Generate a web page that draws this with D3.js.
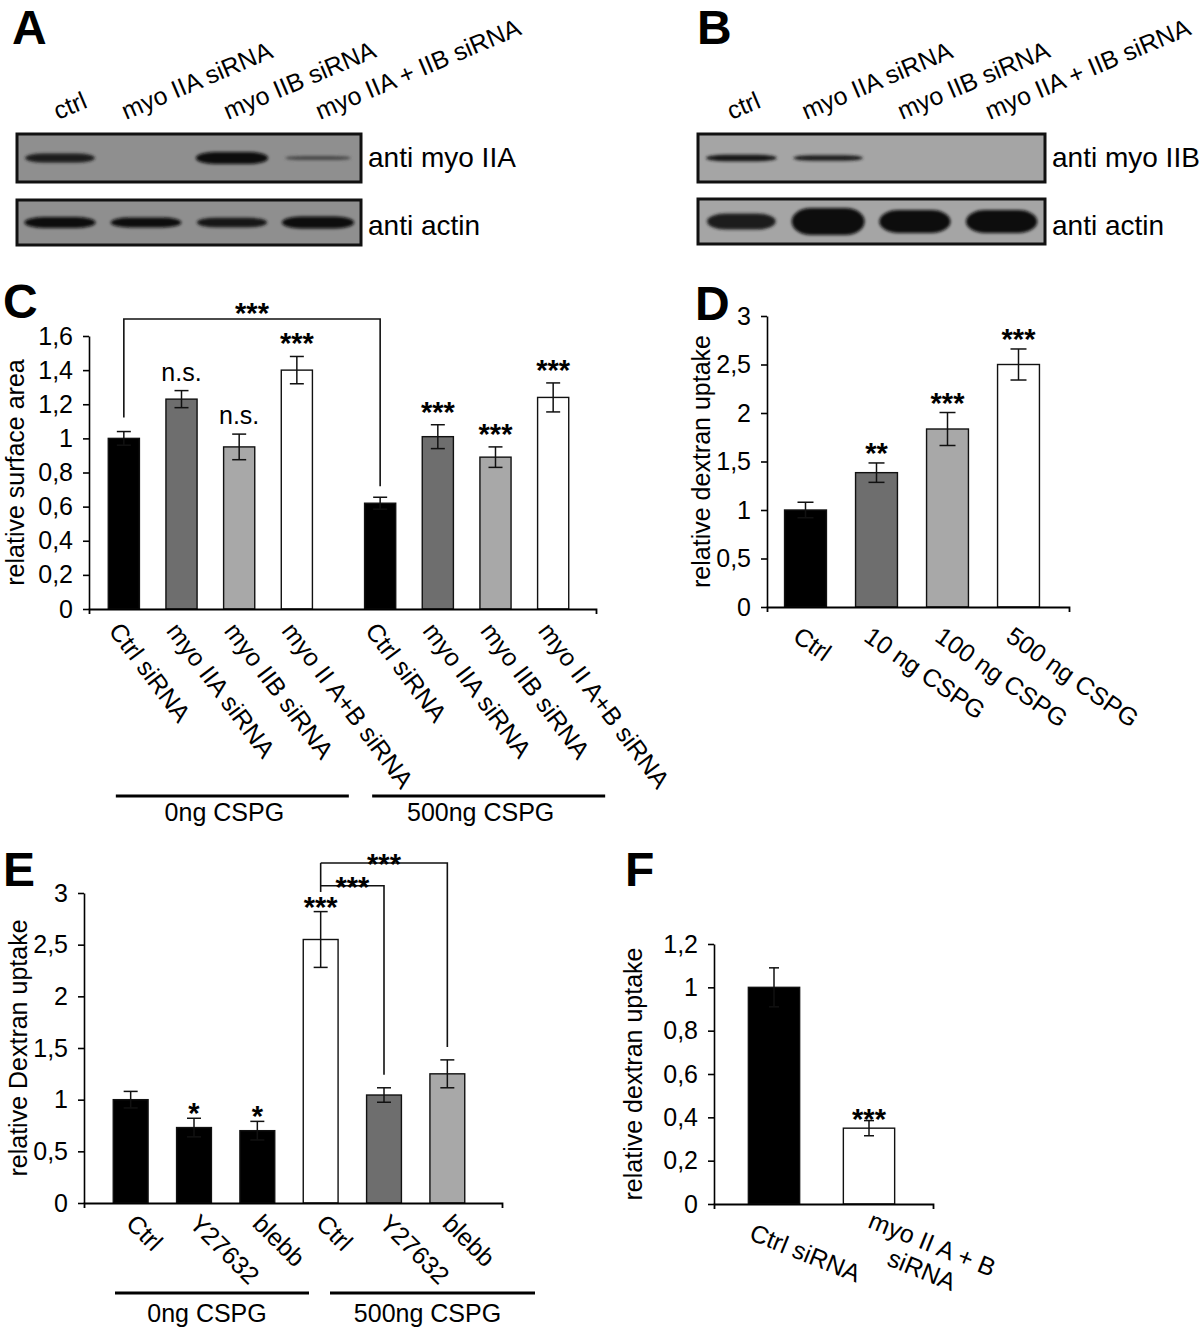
<!DOCTYPE html>
<html><head><meta charset="utf-8">
<script src="https://cdn.jsdelivr.net/npm/d3@7"></script>
<style>
body{margin:0;background:#fff}
svg text{font-family:"Liberation Sans",Arial,Helvetica,sans-serif;fill:#000}
</style></head><body>
<svg id="fig" width="1200" height="1330"></svg>
<script>
// ================= DATA =================
const blotLanes = ["ctrl","myo IIA siRNA","myo IIB siRNA","myo IIA + IIB siRNA"];
const blotA_myoIIA = [0.75,0.0,1.0,0.35];
const blotA_actin  = [0.9,0.85,0.8,1.0];
const blotB_myoIIB = [0.8,0.7,0,0];
const blotB_actin  = [0.6,1.0,0.85,0.85];

const cGroups = ["0ng CSPG","500ng CSPG"];
const cConds  = ["Ctrl siRNA","myo IIA siRNA","myo IIB siRNA","myo II A+B siRNA"];
const cMean0   = [1.0,1.23,0.95,1.40];
const cErr0    = [0.04,0.05,0.075,0.08];
const cSig0    = ["","n.s.","n.s.","***"];
const cMean500 = [0.62,1.01,0.89,1.24];
const cErr500  = [0.035,0.07,0.06,0.085];
const cSig500  = ["","***","***","***"];
const cTicks   = [0,0.2,0.4,0.6,0.8,1,1.2,1.4,1.6];

const dCats  = ["Ctrl","10 ng CSPG","100 ng CSPG","500 ng CSPG"];
const dMean  = [1.0,1.385,1.835,2.5];
const dErr   = [0.08,0.1,0.17,0.16];
const dSig   = ["","**","***","***"];
const dTicks = [0,0.5,1,1.5,2,2.5,3];

const eGroups  = ["0ng CSPG","500ng CSPG"];
const eConds   = ["Ctrl","Y27632","blebb"];
const eMean0   = [1.0,0.73,0.70];
const eErr0    = [0.08,0.09,0.09];
const eSig0    = ["","*","*"];
const eMean500 = [2.55,1.045,1.25];
const eErr500  = [0.27,0.07,0.135];
const eSig500  = ["***","",""];
const eTicks   = [0,0.5,1,1.5,2,2.5,3];

const fCats  = [["Ctrl siRNA"],["myo II A + B","siRNA"]];
const fMean  = [1.0,0.35];
const fErr   = [0.09,0.035];
const fSig   = ["","***"];
const fTicks = [0,0.2,0.4,0.6,0.8,1,1.2];

// ================= STYLE =================
const BLACK="#000", DGRAY="#6e6e6e", LGRAY="#a8a8a8", WHITE="#fff";
const cColor = d3.scaleOrdinal().domain(cConds).range([BLACK,DGRAY,LGRAY,WHITE]);
const dColor = d3.scaleOrdinal().domain(dCats).range([BLACK,DGRAY,LGRAY,WHITE]);
const eColor = (g,c)=> g===eGroups[0] ? BLACK : d3.scaleOrdinal().domain(eConds).range([WHITE,DGRAY,LGRAY])(c);
const fColor = d3.scaleOrdinal().domain([0,1]).range([BLACK,WHITE]);

const fmt = d => (Math.round(d*10)/10).toString().replace(".",",");
const svg = d3.select("#fig");

svg.append("defs").append("filter").attr("id","blur").attr("x","-20%").attr("y","-80%").attr("width","140%").attr("height","260%")
  .append("feGaussianBlur").attr("stdDeviation",1.6);

// ================= HELPERS =================
function yAxis(g, y, x0, ticks){
  const ax = g.append("g").attr("transform",`translate(${x0},0)`)
    .call(d3.axisLeft(y).tickValues(ticks).tickFormat(fmt).tickSize(6).tickSizeOuter(0).tickPadding(10));
  ax.select(".domain").attr("stroke","#000").attr("stroke-width",1.6);
  ax.selectAll(".tick line").attr("stroke","#000").attr("stroke-width",1.6);
  ax.selectAll(".tick text").attr("font-size",25).attr("font-family",null).attr("fill","#000");
}
function xAxisLine(g, x0, x1, yPos){
  const ax = g.append("g").attr("transform",`translate(0,${yPos})`)
    .call(d3.axisBottom(d3.scaleLinear().domain([0,1]).range([x0,x1])).tickValues([]).tickSizeOuter(5));
  ax.select(".domain").attr("stroke","#000").attr("stroke-width",1.8);
}
function bars(g, data, y){
  g.selectAll(null).data(data).enter().append("rect")
    .attr("x",d=>d.cx-d.w/2).attr("y",d=>y(d.v)).attr("width",d=>d.w).attr("height",d=>y(0)-y(d.v))
    .attr("fill",d=>d.fill).attr("stroke","#111").attr("stroke-width",1.4);
  const eb = g.selectAll(null).data(data).enter().append("g").attr("stroke","#111").attr("stroke-width",1.5);
  eb.append("line").attr("x1",d=>d.cx).attr("x2",d=>d.cx).attr("y1",d=>y(d.v+d.e)).attr("y2",d=>y(d.v-d.e));
  eb.append("line").attr("x1",d=>d.cx-d.cap).attr("x2",d=>d.cx+d.cap).attr("y1",d=>y(d.v+d.e)).attr("y2",d=>y(d.v+d.e));
  eb.append("line").attr("x1",d=>d.cx-d.cap).attr("x2",d=>d.cx+d.cap).attr("y1",d=>y(d.v-d.e)).attr("y2",d=>y(d.v-d.e));
}
function sigs(g, data, y, starGap, nsGap){
  g.selectAll(null).data(data.filter(d=>d.sig)).enter().append("text")
    .attr("x",d=>d.cx).attr("text-anchor","middle")
    .attr("y",d=> d.sig==="n.s." ? y(d.v+d.e)-nsGap : y(d.v+d.e)-starGap)
    .attr("font-size",d=> d.sig==="n.s." ? 25 : 29)
    .attr("font-weight",d=> d.sig==="n.s." ? null : "bold")
    .text(d=>d.sig);
}
function rotLabel(g, x, y, angle, txt, size, anchor){
  g.append("text").attr("transform",`translate(${x},${y}) rotate(${angle})`)
    .attr("font-size",size).attr("text-anchor",anchor||"start").text(txt);
}
function yLabel(g, x, y, txt){
  g.append("text").attr("transform",`translate(${x},${y}) rotate(-90)`)
    .attr("text-anchor","middle").attr("font-size",25).text(txt);
}
function panelLetter(x,y,t){
  svg.append("text").attr("x",x).attr("y",y).attr("font-size",48).attr("font-weight","bold").text(t);
}

// ================= BLOTS =================
function blot(x0,x1,yT,yB,bg,vals,maxH,minDark){
  const g = svg.append("g");
  g.append("rect").attr("x",x0).attr("y",yT).attr("width",x1-x0).attr("height",yB-yT)
    .attr("fill",bg).attr("stroke","#111").attr("stroke-width",3);
  const lane = d3.scaleBand().domain(blotLanes).range([x0,x1]);
  const col = d3.interpolateRgb(bg,"#0a0a0a");
  const cy = (yT+yB)/2;
  const data = blotLanes.map((l,i)=>({l,v:vals[i]})).filter(d=>d.v>0.02);
  g.selectAll(null).data(data).enter().append("rect")
    .attr("filter","url(#blur)")
    .attr("x",d=>lane(d.l)+lane.bandwidth()/2 - lane.bandwidth()*(0.36+0.06*d.v))
    .attr("width",d=>lane.bandwidth()*(0.72+0.12*d.v))
    .attr("y",d=>cy - maxH*d.v/2).attr("height",d=>maxH*d.v)
    .attr("rx",d=>lane.bandwidth()*0.22).attr("ry",d=>maxH*d.v/2)
    .attr("fill",d=>col(Math.min(1,minDark+(1-minDark)*1.1*d.v)));
  return lane;
}
// lane-label nudges (layout only)
const laneNudgeA = [-2,-20,-4,2];
const laneNudgeB = [-10,-22,-13,-12];
// A
const laneA = blot(17,361,134,182,"#8f8f8f",blotA_myoIIA,12,0.25);
blot(17,361,200,245,"#8f8f8f",blotA_actin,12,0.25);
blotLanes.forEach((l,i)=> rotLabel(svg, laneA(l)+laneA.bandwidth()/2+laneNudgeA[i], 120, -23, l, 25));
svg.append("text").attr("x",368).attr("y",167).attr("font-size",28).text("anti myo IIA");
svg.append("text").attr("x",368).attr("y",235).attr("font-size",28).text("anti actin");
panelLetter(12,44,"A");
// B
const laneB = blot(698,1045,134,182,"#a5a5a5",blotB_myoIIB,8,0.4);
blot(698,1045,199,244,"#a5a5a5",blotB_actin,27,0.6);
blotLanes.forEach((l,i)=> rotLabel(svg, laneB(l)+laneB.bandwidth()/2+laneNudgeB[i], 120, -23, l, 25));
svg.append("text").attr("x",1052).attr("y",167).attr("font-size",28).text("anti myo IIB");
svg.append("text").attr("x",1052).attr("y",235).attr("font-size",28).text("anti actin");
panelLetter(697,44,"B");

// ================= PANEL C =================
{
  const g = svg.append("g");
  const y = d3.scaleLinear().domain([0,1.6]).range([609,336]);
  const xG = d3.scaleBand().domain(cGroups).range([95,582]).paddingInner(0.1);
  const xC = d3.scaleBand().domain(cConds).range([0,xG.bandwidth()]);
  const cx = (gr,c)=> xG(gr)+xC(c)+xC.bandwidth()/2;
  const data = [];
  cConds.forEach((c,i)=>data.push({g:cGroups[0],c,v:cMean0[i],e:cErr0[i],sig:cSig0[i]}));
  cConds.forEach((c,i)=>data.push({g:cGroups[1],c,v:cMean500[i],e:cErr500[i],sig:cSig500[i]}));
  data.forEach(d=>{d.cx=cx(d.g,d.c); d.w=xC.bandwidth()*0.54; d.cap=7; d.fill=cColor(d.c);});
  bars(g,data,y);
  xAxisLine(g,89,596,y(0));
  yAxis(g,y,89,cTicks);
  sigs(g,data,y,3,10);
  // bracket
  const a = data[0], b = data[4];
  const lvl = y(1.70);
  g.append("path").attr("fill","none").attr("stroke","#111").attr("stroke-width",1.6)
    .attr("d",`M${a.cx},${y(a.v+a.e)-14}V${lvl}H${b.cx}V${y(b.v+b.e)-11}`);
  g.append("text").attr("x",(a.cx+b.cx)/2).attr("y",lvl+4).attr("text-anchor","middle")
    .attr("font-size",29).attr("font-weight","bold").text("***");
  data.forEach(d=> rotLabel(g, d.cx-16, y(0)+22, 53, d.c, 25));
  cGroups.forEach(gr=>{
    const ds = data.filter(d=>d.g===gr);
    const x0 = ds[0].cx-8, x1 = ds[ds.length-1].cx+52;
    g.append("line").attr("x1",x0).attr("x2",x1).attr("y1",796).attr("y2",796).attr("stroke","#000").attr("stroke-width",3);
    g.append("text").attr("x",(x0+x1)/2-8).attr("y",821).attr("text-anchor","middle").attr("font-size",25).text(gr);
  });
  yLabel(g,24,(y(0)+y(1.6))/2,"relative surface area");
  panelLetter(3,318,"C");
}

// ================= PANEL D =================
{
  const g = svg.append("g");
  const y = d3.scaleLinear().domain([0,3]).range([607,316]);
  const x = d3.scaleBand().domain(dCats).range([770,1054]);
  const data = dCats.map((c,i)=>({c,v:dMean[i],e:dErr[i],sig:dSig[i],cx:x(c)+x.bandwidth()/2,w:x.bandwidth()*0.59,cap:8,fill:dColor(c)}));
  bars(g,data,y);
  xAxisLine(g,767,1069,y(0));
  yAxis(g,y,767,dTicks);
  sigs(g,data,y,0,10);
  data.forEach(d=> rotLabel(g, d.cx-14, y(0)+33, 35, d.c, 25));
  yLabel(g,710,(y(0)+y(3))/2,"relative dextran uptake");
  panelLetter(695,320,"D");
}

// ================= PANEL E =================
{
  const g = svg.append("g");
  const y = d3.scaleLinear().domain([0,3]).range([1203,893]);
  const xG = d3.scaleBand().domain(eGroups).range([99,479]);
  const xC = d3.scaleBand().domain(eConds).range([0,xG.bandwidth()]);
  const data = [];
  eConds.forEach((c,i)=>data.push({g:eGroups[0],c,v:eMean0[i],e:eErr0[i],sig:eSig0[i]}));
  eConds.forEach((c,i)=>data.push({g:eGroups[1],c,v:eMean500[i],e:eErr500[i],sig:eSig500[i]}));
  data.forEach(d=>{d.cx=xG(d.g)+xC(d.c)+xC.bandwidth()/2; d.w=xC.bandwidth()*0.55; d.cap=7; d.fill=eColor(d.g,d.c);});
  bars(g,data,y);
  xAxisLine(g,84,502,y(0));
  yAxis(g,y,84,eTicks);
  sigs(g,data,y,-5,10);
  // brackets from 500ng Ctrl
  const ref = data[3];
  const brk = [{to:data[4],lvl:3.07},{to:data[5],lvl:3.29}];
  g.append("line").attr("x1",ref.cx).attr("x2",ref.cx).attr("y1",y(3.29)).attr("y2",y(3.01)).attr("stroke","#111").attr("stroke-width",1.6);
  brk.forEach(b=>{
    g.append("path").attr("fill","none").attr("stroke","#111").attr("stroke-width",1.6)
      .attr("d",`M${ref.cx},${y(b.lvl)}H${b.to.cx}V${y(b.to.v+b.to.e)-13}`);
    g.append("text").attr("x",(ref.cx+b.to.cx)/2).attr("y",y(b.lvl)+11).attr("text-anchor","middle")
      .attr("font-size",29).attr("font-weight","bold").text("***");
  });
  data.forEach(d=> rotLabel(g, d.cx-6, y(0)+22, 45, d.c, 25));
  const lineOff = [[16,20],[41,56]];
  eGroups.forEach((gr,i)=>{
    const x0 = xG(gr)+lineOff[i][0], x1 = xG(gr)+xG.bandwidth()+lineOff[i][1];
    g.append("line").attr("x1",x0).attr("x2",x1).attr("y1",1293).attr("y2",1293).attr("stroke","#000").attr("stroke-width",3);
    g.append("text").attr("x",(x0+x1)/2-5).attr("y",1322).attr("text-anchor","middle").attr("font-size",25).text(gr);
  });
  yLabel(g,27,(y(0)+y(3))/2,"relative Dextran uptake");
  panelLetter(3,886,"E");
}

// ================= PANEL F =================
{
  const g = svg.append("g");
  const y = d3.scaleLinear().domain([0,1.2]).range([1204,944]);
  const x = d3.scaleBand().domain([0,1]).range([726.5,916.5]);
  const data = fCats.map((c,i)=>({c,v:fMean[i],e:fErr[i],sig:fSig[i],cx:x(i)+x.bandwidth()/2,w:x.bandwidth()*0.54,cap:5,fill:fColor(i)}));
  bars(g,data,y);
  xAxisLine(g,714,933,y(0));
  yAxis(g,y,714,fTicks);
  sigs(g,data,y,-8,10);
  const off = [[28,57],[60,48]];
  data.forEach((d,i)=>{
    const t = g.append("text").attr("transform",`translate(${d.cx+off[i][0]},${y(0)+off[i][1]}) rotate(22)`)
      .attr("font-size",25).attr("text-anchor","middle");
    d.c.forEach((line,j)=> t.append("tspan").attr("x",0).attr("dy",j?28:0).text(line));
  });
  yLabel(g,642,(y(0)+y(1.2))/2,"relative dextran uptake");
  panelLetter(625,886,"F");
}
</script></body></html>
